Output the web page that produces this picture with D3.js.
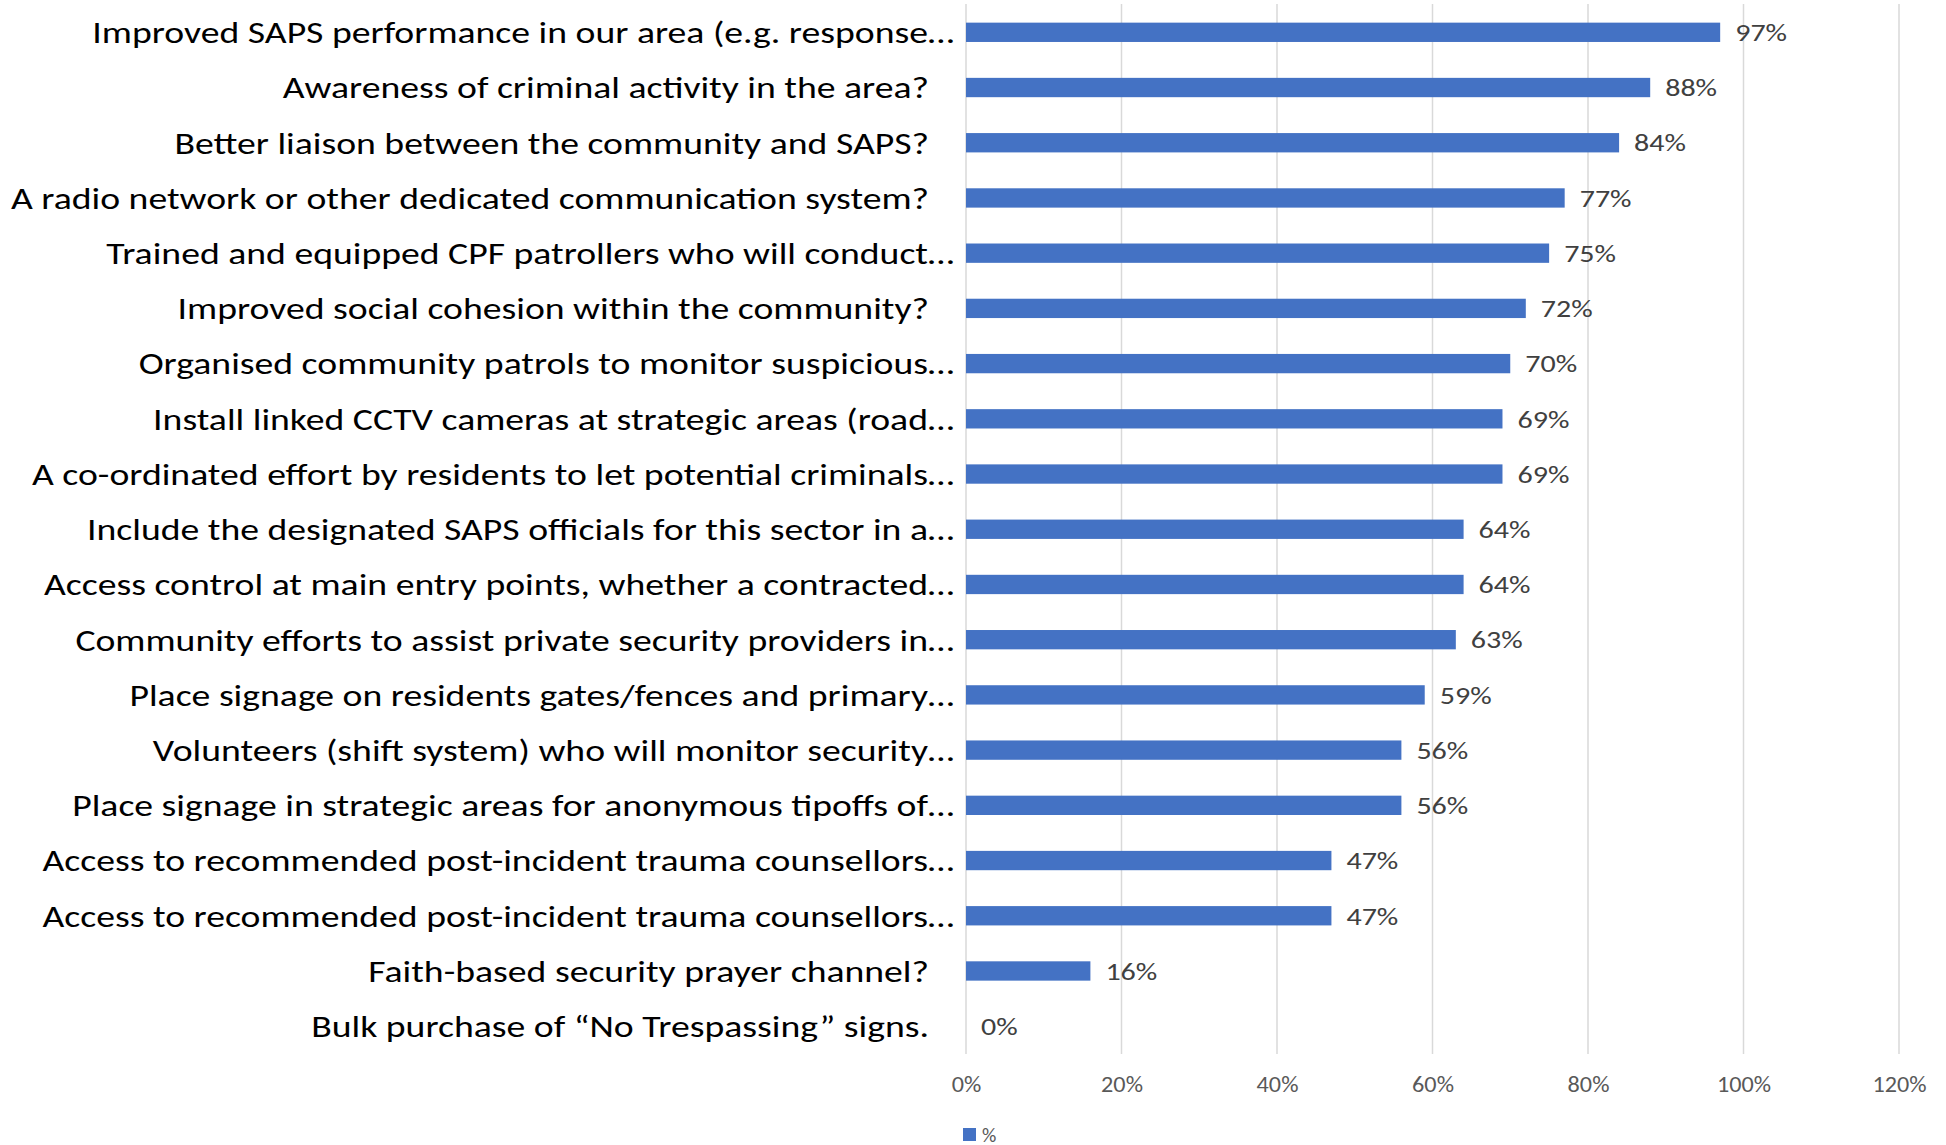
<!DOCTYPE html>
<html>
<head>
<meta charset="utf-8">
<script src="https://cdn.jsdelivr.net/npm/d3@7"></script>
<style>
  body { margin: 0; background: #fff; }
  svg text { font-family: Carlito, "Liberation Sans Narrow", Lato, "Open Sans", sans-serif; }
</style>
</head>
<body>
<div id="chart-area"></div>
<script>
const categories = [
  "Improved SAPS performance in our area (e.g. response…",
  "Awareness of criminal activity in the area?",
  "Better liaison between the community and SAPS?",
  "A radio network or other dedicated communication system?",
  "Trained and equipped CPF patrollers who will conduct…",
  "Improved social cohesion within the community?",
  "Organised community patrols to monitor suspicious…",
  "Install linked CCTV cameras at strategic areas (road…",
  "A co-ordinated effort by residents to let potential criminals…",
  "Include the designated SAPS officials for this sector in a…",
  "Access control at main entry points, whether a contracted…",
  "Community efforts to assist private security providers in…",
  "Place signage on residents gates/fences and primary…",
  "Volunteers (shift system) who will monitor security…",
  "Place signage in strategic areas for anonymous tipoffs of…",
  "Access to recommended post-incident trauma counsellors…",
  "Access to recommended post-incident trauma counsellors…",
  "Faith-based security prayer channel?",
  "Bulk purchase of “No Trespassing” signs."
];
const values = [0.97, 0.88, 0.84, 0.77, 0.75, 0.72, 0.70, 0.69, 0.69, 0.64, 0.64, 0.63, 0.59, 0.56, 0.56, 0.47, 0.47, 0.16, 0.00];
const xTicks = [0, 0.2, 0.4, 0.6, 0.8, 1.0, 1.2];
const seriesName = "%";

const w = 1946;
const h = 1145;
const barColor = "#4472c4";

const svg = d3.select("#chart-area")
    .append("svg")
    .attr("width", w)
    .attr("height", h);

const xScale = d3.scaleLinear()
    .domain([0, 1.2])
    .range([966, 1899]);

// index based band so duplicate labels keep their own row
const yScale = d3.scaleBand()
    .domain(d3.range(categories.length))
    .range([4.7, 1053.8])
    .paddingInner(0.65)
    .paddingOuter(0.325);

// stretch text horizontally, the original font is narrower but wider set
const stretch = (sel, k) => sel.each(function () {
    const len = this.getComputedTextLength();
    d3.select(this)
        .attr("textLength", len * k)
        .attr("lengthAdjust", "spacingAndGlyphs");
});

// gridlines
svg.append("g")
    .selectAll("line")
    .data(xTicks)
    .enter()
    .append("line")
    .attr("x1", d => xScale(d))
    .attr("x2", d => xScale(d))
    .attr("y1", 4)
    .attr("y2", 1054)
    .attr("stroke", "#d9d9d9")
    .attr("stroke-width", 1.5);

// x axis labels
const xAxis = d3.axisBottom(xScale)
    .tickValues(xTicks)
    .tickFormat(d3.format(".0%"))
    .tickSize(0)
    .tickPadding(0);

const gx = svg.append("g")
    .attr("transform", "translate(0,1084)")
    .call(xAxis);
gx.select(".domain").remove();
gx.selectAll("text")
    .attr("dy", "0.35em")
    .attr("fill", "#595959")
    .style("font-size", "22px")
    .call(stretch, 1.1);

// category labels
const labels = svg.append("g")
    .selectAll("text")
    .data(categories)
    .enter()
    .append("text")
    .attr("text-anchor", "end")
    .attr("dy", "0.35em")
    .attr("fill", "#000")
    .style("font-size", "31px")
    .attr("x", d => d.endsWith("…") ? 954 : 929)
    .attr("y", (d, i) => yScale(i) + yScale.bandwidth() / 2)
    .text(d => d);

const widest = d3.max(labels.nodes(), n => n.getComputedTextLength());
labels.call(stretch, 922 / widest);

// bars
svg.append("g")
    .selectAll("rect")
    .data(values)
    .enter()
    .append("rect")
    .attr("x", xScale(0))
    .attr("y", (d, i) => yScale(i))
    .attr("width", d => xScale(d) - xScale(0))
    .attr("height", yScale.bandwidth())
    .attr("fill", barColor);

// value labels
svg.append("g")
    .selectAll("text")
    .data(values)
    .enter()
    .append("text")
    .attr("x", d => xScale(d) + 15)
    .attr("y", (d, i) => yScale(i) + yScale.bandwidth() / 2)
    .attr("dy", "0.35em")
    .attr("fill", "#404040")
    .style("font-size", "25px")
    .text(d => d3.format(".0%")(d))
    .call(stretch, 1.2);

// legend
const legend = svg.append("g").attr("transform", "translate(963,1128)");
legend.append("rect")
    .attr("width", 13)
    .attr("height", 13)
    .attr("fill", barColor);
legend.append("text")
    .attr("x", 19)
    .attr("y", 6.5)
    .attr("dy", "0.35em")
    .attr("fill", "#595959")
    .style("font-size", "20px")
    .text(seriesName);
</script>
</body>
</html>
